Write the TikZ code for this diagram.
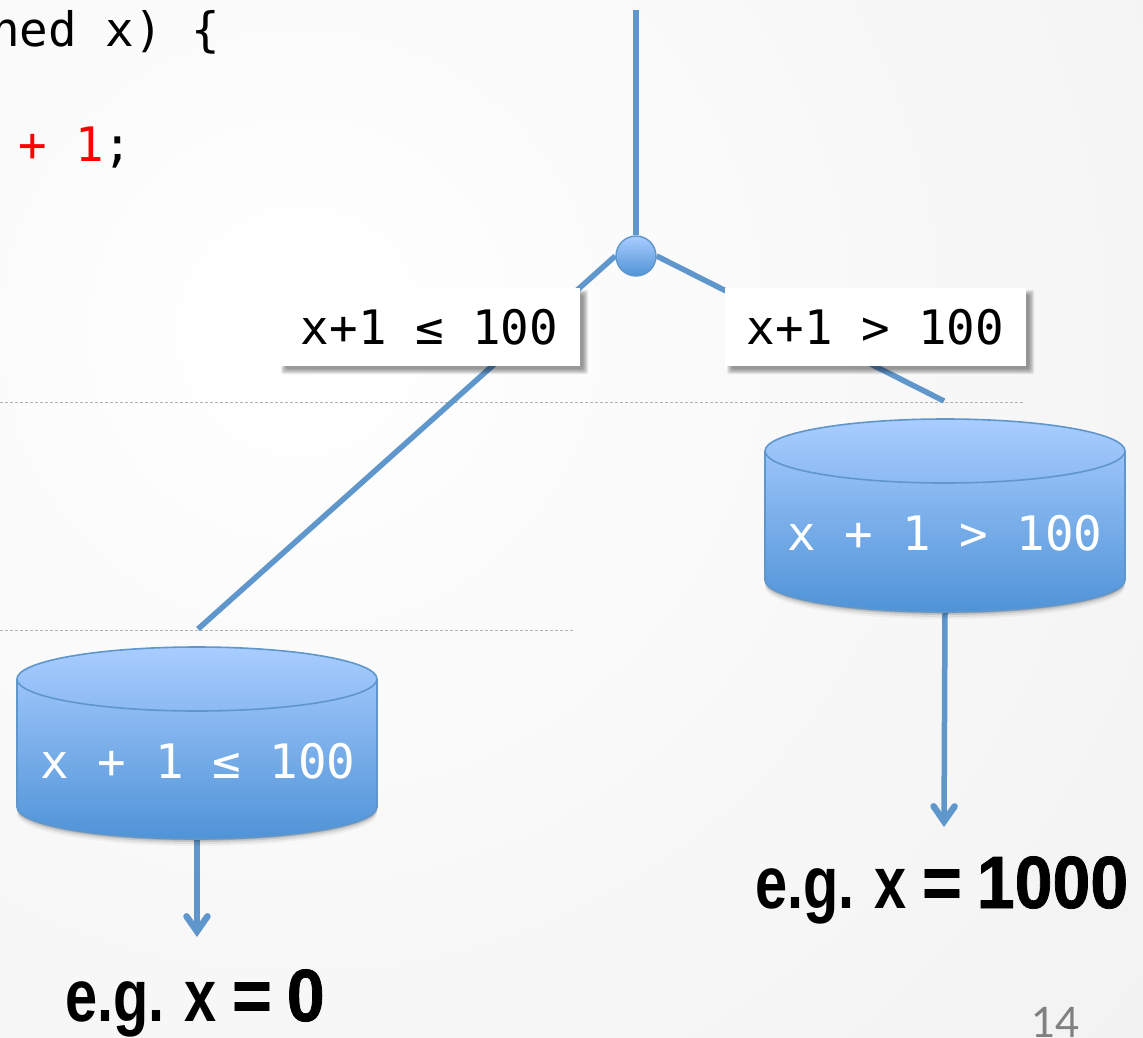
\documentclass[tikz,border=0pt]{standalone}
\usepackage{fontspec}
\usetikzlibrary{arrows.meta,calc}
\setmonofont{DejaVu Sans Mono}
\newfontfamily\headfont[FakeStretch=0.78]{Liberation Sans Bold}
\newfontfamily\wideheadfont[FakeStretch=0.92,FakeBold=1]{Liberation Sans Bold}
\newfontfamily\pagefont{Lato}
\definecolor{linkblue}{HTML}{5F97CC}
\definecolor{edgeblue}{HTML}{5F96CB}
\definecolor{topblue}{HTML}{A9CDFF}
\definecolor{lowblue}{HTML}{4F93D7}
\pgfdeclarelayer{bgl}
\pgfdeclarelayer{conn}
\pgfsetlayers{bgl,conn,main}
\tikzset{
  x=1pt,y=-1pt,
  code/.style={inner sep=0pt,anchor=base west,font=\ttfamily\fontsize{47.5}{50}\selectfont},
  codewhite/.style={inner sep=0pt,anchor=base,text=white,font=\ttfamily\fontsize{47.5}{50}\selectfont},
  guard/.style={fill=white,minimum width=301pt,minimum height=78pt,inner sep=0pt,font=\ttfamily\fontsize{47.5}{50}\selectfont,text depth=0pt},
  link/.style={draw=linkblue,line width=5.5pt},
  flow/.style={link,-{Straight Barb[length=15pt,width=21pt,line width=6.5pt,line cap=round,line join=miter]}},
  guide/.style={draw=black!30,line width=1pt,dash pattern=on 3pt off 2pt},
  result/.style={inner sep=0pt,anchor=base west,font=\headfont\fontsize{74}{76}\selectfont},
}
\tikzset{cylbox/.style={minimum width=360pt,minimum height=193pt,inner sep=0pt}}
\newcommand{\resulttext}[1]{\spaceskip=15pt e.g. x {\wideheadfont =} {\wideheadfont #1}}
\newcommand{\cylshape}[3]{%
  \foreach \d/\o in {7/0.04,5/0.07,3/0.10,1.5/0.14}{
    \fill[black,opacity=\o] (#1-180,#3+\d) arc[start angle=180,end angle=360,x radius=180pt,y radius=32pt] -- cycle;
  }
  \path[top color=topblue,bottom color=lowblue]
    (#1-180,#2) -- (#1-180,#3) arc[start angle=180,end angle=360,x radius=180pt,y radius=32pt]
    -- (#1+180,#2) arc[start angle=0,end angle=180,x radius=180pt,y radius=32pt] -- cycle;
  \draw[edgeblue,line width=1.6pt]
    (#1-180,#2) -- (#1-180,#3) arc[start angle=180,end angle=360,x radius=180pt,y radius=32pt]
    -- (#1+180,#2);
  \draw[edgeblue,line width=1.6pt] (#1,#2) ellipse[x radius=180pt,y radius=32pt];
}
\newcommand{\boxdrop}[4]{%
  \foreach \d in {8,7,6,5,4,3}{
    \fill[black,opacity=0.08,rounded corners=2pt] (#1+5,#2+5) ++(-\d+5,-\d+5) rectangle (#3+\d,#4+\d);
  }
}
\begin{document}
\begin{tikzpicture}
\useasboundingbox (0,0) rectangle (1143,1037);
\begin{pgfonlayer}{bgl}
  \begin{scope}
    \clip (0,0) rectangle (1143,1037);
    \fill[white] (0,0) rectangle (1143,1037);
    \shade[inner color=white,outer color=black!6] (300,330) circle[radius=1300pt];
  \end{scope}
\end{pgfonlayer}

\begin{pgfonlayer}{conn}
  \draw[guide] (0,402) -- (1025,402);
  \draw[guide] (0,630) -- (573,630);
\end{pgfonlayer}

\node[code] (codeA) at (-9,46) {ned x) \{};
\node[code] (codeB) at (18,161) {\textcolor{red}{+ 1};};

\node[circle,minimum size=40pt,inner sep=0pt,draw=edgeblue,line width=1.4pt,top color=topblue,bottom color=lowblue] (junction) at (636,256) {};
\coordinate (top) at (636,10);
\coordinate (leftEnd) at (198,629);
\coordinate (rightEnd) at (944,401);

\cylshape{197}{679}{807}
\cylshape{945}{451}{580}
\node[cylbox] (cylL) at (197,743) {};
\node[cylbox] (cylR) at (945,515.5) {};
\node[codewhite] (cylLtext) at (198,778) {x + 1 ≤ 100};
\node[codewhite] (cylRtext) at (945,550) {x + 1 > 100};

\boxdrop{279}{288}{580}{366}
\boxdrop{725}{288}{1026}{366}
\node[guard] (guardL) at (429.5,327) {x+1 ≤ 100};
\node[guard] (guardR) at (875.5,327) {x+1 > 100};

\coordinate (tipL) at (197,937);
\coordinate (tipR) at (944,827);

\begin{pgfonlayer}{conn}
  \draw[link] (top) -- (junction);
  \draw[link] (junction.west) -- (leftEnd);
  \draw[link] (junction.east) -- (rightEnd);
  \draw[flow] (cylL.south) -- (tipL);
  \draw[flow] (cylR.south) -- (tipR);
\end{pgfonlayer}

\node[result] (resL) at (65,1021) {\resulttext{0}};
\node[result] (resR) at (755,908) {\resulttext{1000}};
\node[inner sep=0pt,anchor=base west,text=black!50,font=\pagefont\fontsize{42}{44}\selectfont] (pageno) at (1031,1037) {14};
\end{tikzpicture}
\end{document}
